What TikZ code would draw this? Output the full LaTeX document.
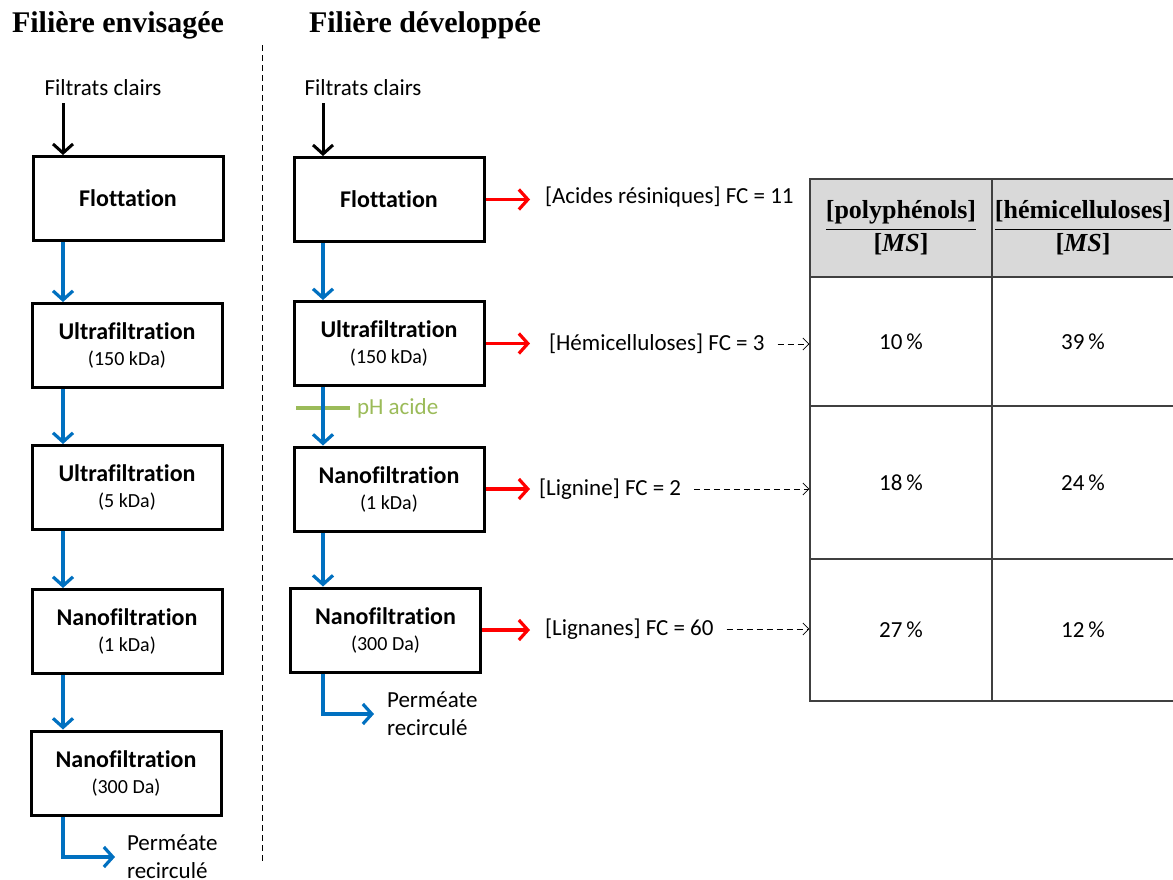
\documentclass[tikz,border=0pt]{standalone}
\usepackage{fontspec}
\usepackage{amsmath}
\setmainfont{Carlito}[Ligatures=NoCommon]
\newfontfamily\titlefont{Liberation Serif}
\usetikzlibrary{arrows.meta}
\definecolor{flowblue}{HTML}{0070C0}
\definecolor{acidgreen}{HTML}{9BBB59}
\definecolor{headgray}{HTML}{D9D9D9}
\newcommand{\cutoff}[1]{{\fontsize{10}{12}\selectfont\mdseries (#1)}}

\begin{document}
\begin{tikzpicture}[
    x=0.5pt, y=-0.5pt,
    every node/.style={font=\fontsize{11.5}{14}\selectfont},
    unit/.style={draw, line width=1.5pt, minimum width=95pt, minimum height=42pt, align=center, inner sep=2pt, font=\fontsize{12}{15}\selectfont\bfseries},
    title/.style={font=\fontsize{15}{18}\selectfont\titlefont\bfseries},
    feed/.style={-{Straight Barb[length=4.5pt,width=10pt]}, line width=1.5pt},
    flow/.style={-{Straight Barb[length=4.5pt,width=10pt]}, line width=1.6pt, flowblue},
    yield/.style={-{Straight Barb[length=4.5pt,width=10pt]}, line width=1.6pt, red},
    link/.style={-{Straight Barb[length=3pt,width=6pt]}, densely dashed, thin, shorten <=3pt},
    cell/.style={draw=black!75, line width=0.6pt, minimum width=91pt, inner sep=0pt},
]
\useasboundingbox (0,0) rectangle (1173,879);

\node[title] (t1) at (118,25) {Filière envisagée};
\node[title] (t2) at (425,25) {Filière développée};
\draw[dash pattern=on 3pt off 2pt, thin] (262,45) -- (262,862);

\coordinate (la) at (63,0);
\coordinate (ra) at (323,0);
\coordinate (rt) at (530,0);

% filiere envisagee
\node (f1) at (103,88) {Filtrats clairs};
\node[unit] (l1) at (128,198.5) {Flottation};
\node[unit] (l2) at (127,345.5) {Ultrafiltration\\[-2pt]\cutoff{150 kDa}};
\node[unit] (l3) at (127,487.5) {Ultrafiltration\\[-2pt]\cutoff{5 kDa}};
\node[unit] (l4) at (127,631.5) {Nanofiltration\\[-2pt]\cutoff{1 kDa}};
\node[unit] (l5) at (126,773) {Nanofiltration\\[-2pt]\cutoff{300 Da}};
\node[anchor=west, align=left] (p1) at (120,857) {Perméate\\recirculé};

\draw[feed] (f1.south -| la) -- (l1.north -| la);
\draw[flow] (l1.south -| la) -- (l2.north -| la);
\draw[flow] (l2.south -| la) -- (l3.north -| la);
\draw[flow] (l3.south -| la) -- (l4.north -| la);
\draw[flow] (l4.south -| la) -- (l5.north -| la);
\draw[flow, shorten >=2.5pt] (l5.south -| la) |- (p1.west);

% filiere developpee
\node (f2) at (363,88) {Filtrats clairs};
\node[unit] (r1) at (389,199.5) {Flottation};
\node[unit] (r2) at (389,343.5) {Ultrafiltration\\[-2pt]\cutoff{150 kDa}};
\node[unit] (r3) at (389,489) {Nanofiltration\\[-2pt]\cutoff{1 kDa}};
\node[unit] (r4) at (385.5,630) {Nanofiltration\\[-2pt]\cutoff{300 Da}};
\node[anchor=west, align=left] (p2) at (380,714) {Perméate\\recirculé};
\node[anchor=west, text=acidgreen] (ph) at (350,408) {pH acide};
\coordinate (g) at (296,408);

\draw[acidgreen, line width=1.6pt] (g) -- (ph.west);
\draw[feed] (f2.south -| ra) -- (r1.north -| ra);
\draw[flow] (r1.south -| ra) -- (r2.north -| ra);
\draw[flow] (r2.south -| ra) -- (r3.north -| ra);
\draw[flow] (r3.south -| ra) -- (r4.north -| ra);
\draw[flow, shorten >=3pt] (r4.south -| ra) |- (p2.west);

\node[anchor=west] (a1) at (538,197) {[Acides résiniques] FC = 11};
\node[anchor=west] (a2) at (542,344) {[Hémicelluloses] FC = 3};
\node[anchor=west] (a3) at (532,489) {[Lignine] FC = 2};
\node[anchor=west] (a4) at (538,629) {[Lignanes] FC = 60};

\draw[yield] (r1.east) -- (r1.east -| rt);
\draw[yield] (r2.east) -- (r2.east -| rt);
\draw[yield] (r3.east) -- (r3.east -| rt);
\draw[yield] (r4.east) -- (r4.east -| rt);

% tableau
\node[cell, fill=headgray, minimum height=49pt, font=\fontsize{13}{16}\selectfont\titlefont] (h1) at (901,228)
    {$\dfrac{\text{\bfseries [polyphénols]}}{\text{\bfseries [\itshape MS\upshape]}}$};
\node[cell, fill=headgray, minimum height=49pt, font=\fontsize{13}{16}\selectfont\titlefont] (h2) at (1083,228)
    {$\dfrac{\text{\bfseries [hémicelluloses]}}{\text{\bfseries [\itshape MS\upshape]}}$};
\node[cell, minimum height=64.5pt] (c1) at (901,341.5) {10\,\%};
\node[cell, minimum height=64.5pt] (d1) at (1083,341.5) {39\,\%};
\node[cell, minimum height=76.5pt] (c2) at (901,482.5) {18\,\%};
\node[cell, minimum height=76.5pt] (d2) at (1083,482.5) {24\,\%};
\node[cell, minimum height=71pt] (c3) at (901,630) {27\,\%};
\node[cell, minimum height=71pt] (d3) at (1083,630) {12\,\%};

\draw[link] (a2.east) -- (a2.east -| c1.west);
\draw[link] (a3.east) -- (a3.east -| c2.west);
\draw[link] (a4.east) -- (a4.east -| c3.west);
\end{tikzpicture}
\end{document}
